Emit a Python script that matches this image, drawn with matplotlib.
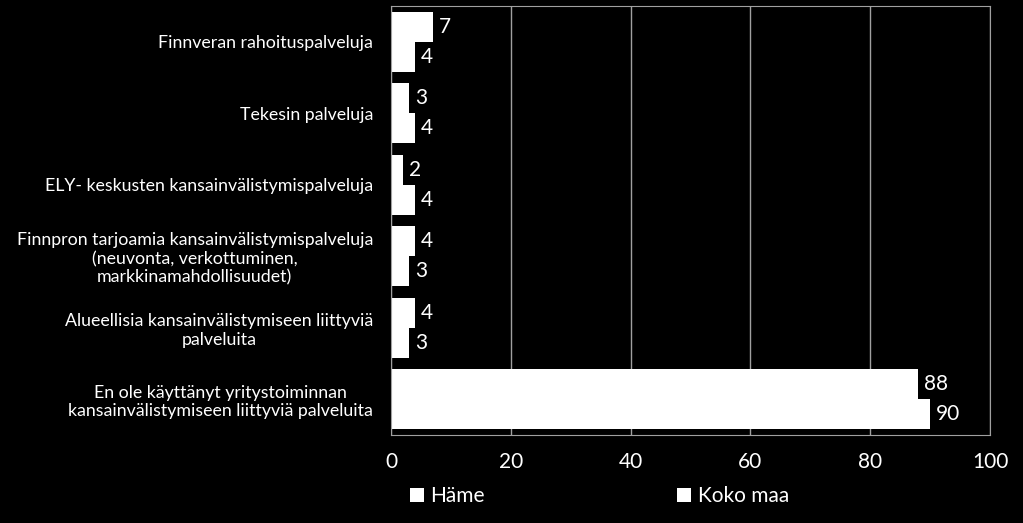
import numpy as np
import matplotlib.pyplot as plt

plt.rcParams['font.family'] = ['Lato', 'DejaVu Sans']

categories = [
    "Finnveran rahoituspalveluja",
    "Tekesin palveluja",
    "ELY- keskusten kansainvälistymispalveluja",
    "Finnpron tarjoamia kansainvälistymispalveluja\n(neuvonta, verkottuminen,\nmarkkinamahdollisuudet)",
    "Alueellisia kansainvälistymiseen liittyviä\npalveluita",
    "En ole käyttänyt yritystoiminnan\nkansainvälistymiseen liittyviä palveluita",
]
hame = [7, 3, 2, 4, 4, 88]
koko_maa = [4, 4, 4, 3, 3, 90]
series_names = ["Häme", "Koko maa"]

fig = plt.figure(figsize=(10.23, 5.23), dpi=100, facecolor='black')
ax = fig.add_axes([391 / 1023, 1 - 435 / 523, (990 - 391) / 1023, (435 - 6) / 523])
ax.set_facecolor('black')

y = np.arange(len(categories))
h = 0.42
b1 = ax.barh(y - h / 2, hame, height=h, color='white', label=series_names[0])
b2 = ax.barh(y + h / 2, koko_maa, height=h, color='white', label=series_names[1])

for bars, vals in ((b1, hame), (b2, koko_maa)):
    for bar, v in zip(bars, vals):
        ax.text(bar.get_width() + 1, bar.get_y() + bar.get_height() / 2, str(v),
                color='white', fontsize=15, va='center', ha='left')

ax.set_xlim(0, 100)
ax.set_ylim(len(categories) - 0.5, -0.5)
ax.set_xticks(range(0, 101, 20))
ax.tick_params(axis='x', colors='white', labelsize=15, length=0, pad=12)
ax.tick_params(axis='y', colors='white', labelsize=12.8, length=0, pad=13)
ax.set_yticks(y)
ax.set_yticklabels(categories, multialignment='center')
ax.grid(axis='x', color='#a0a0a0', linewidth=1)
ax.set_axisbelow(True)
for s in ax.spines.values():
    s.set_color('#a0a0a0')

fig.legend(handles=[b1, b2], labels=series_names, loc='lower left',
           bbox_to_anchor=(391 / 1023, -0.004), ncol=2, frameon=False,
           fontsize=15, labelcolor='white', columnspacing=9.2,
           handlelength=0.7, handleheight=0.7, handletextpad=0.3)

fig.savefig('out.png', dpi=100, facecolor='black')
